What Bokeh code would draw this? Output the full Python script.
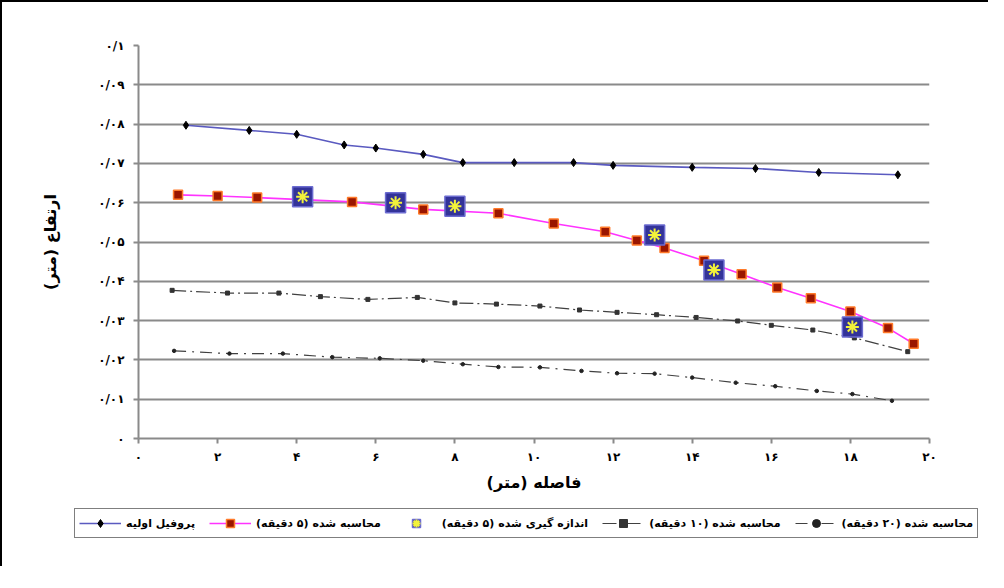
from bokeh.plotting import figure
from bokeh.models import (FixedTicker, Legend, LegendItem, Range1d)
from bokeh.embed import file_html
from bokeh.resources import INLINE

# ---------------- data ----------------
profile_x = [1.2, 2.8, 4.0, 5.2, 6.0, 7.2, 8.2, 9.5, 11.0, 12.0, 14.0, 15.6, 17.2, 19.2]
profile_y = [0.0797, 0.0784, 0.0774, 0.0747, 0.0739, 0.0723, 0.0702, 0.0702, 0.0702,
             0.0695, 0.0690, 0.0687, 0.0677, 0.0671]

calc5_x = [1.0, 2.0, 3.0, 5.4, 7.2, 9.1, 10.5, 11.8, 12.6, 13.3, 14.3, 15.25, 16.15,
           17.0, 18.0, 18.95, 19.6]
calc5_y = [0.0620, 0.0617, 0.0613, 0.0602, 0.0583, 0.0573, 0.0547, 0.0526, 0.0504,
           0.0485, 0.0452, 0.0418, 0.0384, 0.0357, 0.0323, 0.0281, 0.0241]

meas5_x = [4.15, 6.5, 8.0, 13.05, 14.55, 18.05]
meas5_y = [0.0615, 0.0600, 0.0591, 0.0518, 0.0429, 0.0284]

calc10_x = [0.85, 2.25, 3.55, 4.6, 5.8, 7.05, 8.0, 9.05, 10.15, 11.15, 12.1, 13.1,
            14.1, 15.15, 16.0, 17.05, 18.1, 19.45]
calc10_y = [0.0377, 0.0370, 0.0370, 0.0361, 0.0354, 0.0359, 0.0345, 0.0342, 0.0337,
            0.0327, 0.0321, 0.0315, 0.0308, 0.0299, 0.0288, 0.0276, 0.0256, 0.0221]

calc20_x = [0.9, 2.3, 3.65, 4.9, 6.1, 7.2, 8.2, 9.1, 10.15, 11.2, 12.1, 13.05, 14.0,
            15.1, 16.1, 17.15, 18.05, 19.05]
calc20_y = [0.0223, 0.0216, 0.0216, 0.0207, 0.0204, 0.0198, 0.0189, 0.0182, 0.0181,
            0.0172, 0.0166, 0.0165, 0.0155, 0.0142, 0.0133, 0.0121, 0.0113, 0.0096]

x_ticks = [0, 2, 4, 6, 8, 10, 12, 14, 16, 18, 20]
x_tick_labels = ["۰", "۲", "۴", "۶", "۸", "۱۰", "۱۲", "۱۴", "۱۶", "۱۸", "۲۰"]
y_ticks = [0, 0.01, 0.02, 0.03, 0.04, 0.05, 0.06, 0.07, 0.08, 0.09, 0.1]
y_tick_labels = ["۰", "۰/۰۱", "۰/۰۲", "۰/۰۳", "۰/۰۴", "۰/۰۵", "۰/۰۶", "۰/۰۷",
                 "۰/۰۸", "۰/۰۹", "۰/۱"]

RLM = "\u200f"
series_labels = ["پروفیل اولیه", "محاسبه شده (۵ دقیقه)", "اندازه گیری شده (۵ دقیقه)",
                 "محاسبه شده (۱۰ دقیقه)", "محاسبه شده (۲۰ دقیقه)"]
x_label = "فاصله (متر)"
y_label = "ارتفاع (متر)"

FONT = "DejaVu Sans"

# styles
S_PROFILE_LINE = dict(line_color="#5a5ac0", line_width=1.6)
S_PROFILE_MARK = dict(marker="diamond", size=8, fill_color="black", line_color="black")
S_C5_LINE = dict(line_color="#ff33ff", line_width=1.6)
S_C5_MARK = dict(marker="square", size=9, fill_color="#9a1600", line_color="#ff7a2a",
                 line_width=1.5)
S_C10_LINE = dict(line_color="#404040", line_width=1.2, line_dash="14 4 2 4")
S_C10_MARK = dict(marker="square", size=4, fill_color="#333333", line_color="#333333")
S_C20_LINE = dict(line_color="#404040", line_width=1.2, line_dash="12 6 2 6")
S_C20_MARK = dict(marker="circle", size=3.5, fill_color="#222222", line_color="#222222")
S_M5_BOX = dict(marker="square", size=20, fill_color="#333399", line_color="#6b6bd0",
                line_width=1.5)
S_M5_STAR = dict(marker="asterisk", size=13, line_color="#f2f23a", line_width=2)


def draw_series(fig):
    prof = (fig.line(profile_x, profile_y, **S_PROFILE_LINE),
            fig.scatter(profile_x, profile_y, **S_PROFILE_MARK))
    c5 = (fig.line(calc5_x, calc5_y, **S_C5_LINE),
          fig.scatter(calc5_x, calc5_y, **S_C5_MARK))
    c10 = (fig.line(calc10_x, calc10_y, **S_C10_LINE),
           fig.scatter(calc10_x, calc10_y, **S_C10_MARK))
    c20 = (fig.line(calc20_x, calc20_y, **S_C20_LINE),
           fig.scatter(calc20_x, calc20_y, **S_C20_MARK))
    m5 = (fig.scatter(meas5_x, meas5_y, **S_M5_BOX),
          fig.scatter(meas5_x, meas5_y, **S_M5_STAR))
    return [prof, c5, m5, c10, c20]


# ---------------- main figure ----------------
p = figure(width=988, height=506, output_backend="svg", toolbar_location=None,
           x_range=Range1d(0, 20), y_range=Range1d(0, 0.1),
           min_border_left=136, min_border_top=43, min_border_right=61,
           min_border_bottom=70)
p.styles = {"border-left": "2px solid black", "border-top": "2px solid black"}
p.outline_line_color = None
p.background_fill_color = "white"
p.border_fill_color = "white"

p.xgrid.grid_line_color = None
p.ygrid.grid_line_color = "#8a8a8a"
p.ygrid.grid_line_width = 2

for ax in (p.xaxis, p.yaxis):
    ax.axis_line_color = "#8a8a8a"
    ax.axis_line_width = 2
    ax.major_tick_line_color = "#8a8a8a"
    ax.major_tick_line_width = 2
    ax.major_tick_out = 5
    ax.major_tick_in = 0
    ax.minor_tick_line_color = None
    ax.major_label_text_font = FONT
    ax.major_label_text_font_style = "bold"
    ax.major_label_text_font_size = "12px"
    ax.major_label_text_color = "black"
    ax.axis_label_text_font = FONT
    ax.axis_label_text_font_style = "bold"
    ax.axis_label_text_font_size = "16px"
    ax.axis_label_text_color = "black"

p.xaxis.ticker = FixedTicker(ticks=x_ticks)
p.xaxis.major_label_overrides = {t: l for t, l in zip(x_ticks, x_tick_labels)}
p.yaxis.ticker = FixedTicker(ticks=y_ticks)
p.yaxis.major_label_overrides = {t: l for t, l in zip(y_ticks, y_tick_labels)}
p.xaxis.major_label_standoff = 6
p.yaxis.major_label_standoff = 9
p.xaxis.axis_label = x_label + RLM
p.yaxis.axis_label = y_label + RLM
p.xaxis.axis_label_standoff = 6
p.yaxis.axis_label_standoff = 35

draw_series(p)

# ---------------- legend strip (separate root, same series off-screen) ----------------
q = figure(width=988, height=60, output_backend="svg", toolbar_location=None,
           x_range=Range1d(1000, 1001), y_range=Range1d(1000, 1001),
           x_axis_location=None, y_axis_location=None, min_border=0)
q.styles = {"border-left": "2px solid black"}
q.outline_line_color = None
q.grid.grid_line_color = None
q.border_fill_color = "white"
q.background_fill_color = "white"

legend_renderers = draw_series(q)
legend = Legend(items=[
    LegendItem(label=lab + RLM, renderers=list(rs))
    for lab, rs in zip(series_labels, legend_renderers)
], orientation="horizontal", location=(72, 28))
legend.label_text_font = FONT
legend.label_text_font_style = "bold"
legend.label_text_font_size = "11px"
legend.label_text_color = "black"
legend.glyph_width = 42
legend.glyph_height = 20
legend.label_standoff = 5
legend.spacing = 14
legend.padding = 4
legend.margin = 0
legend.border_line_color = "black"
legend.border_line_width = 1.5
legend.background_fill_color = "white"
q.add_layout(legend, "center")

open("out.html", "w").write(file_html([p, q], INLINE))
